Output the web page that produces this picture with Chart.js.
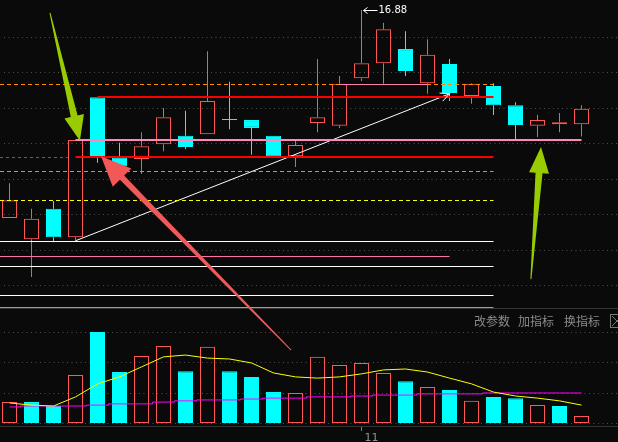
<!DOCTYPE html>
<html lang="zh-CN">
<head>
<meta charset="UTF-8" />
<title>K线 + 成交量</title>
<script src="https://cdn.jsdelivr.net/npm/chart.js@4.4.1/dist/chart.umd.min.js"></script>
<style>
  html, body { margin: 0; padding: 0; background: #0a0a0a; }
  canvas { display: block; }
</style>
</head>
<body>
<canvas id="kChart" width="618" height="442"></canvas>
<script>
// K线 (27 根, 从左到右)
const opens  = [13.95, 13.65, 14.08, 13.68, 15.65, 14.80, 14.78, 14.99, 15.11, 15.13, 15.33, 15.33, 15.11, 14.82, 15.29, 15.25, 15.92, 16.13, 16.33, 15.85, 16.12, 15.67, 15.81, 15.54, 15.25, 15.27, 15.27];
const highs  = [14.44, 14.08, 14.19, 15.05, 15.65, 15.01, 15.16, 15.50, 15.46, 16.30, 15.87, 15.33, 15.11, 15.04, 16.19, 15.95, 16.88, 16.70, 16.58, 16.47, 16.19, 15.85, 15.85, 15.58, 15.40, 15.43, 15.54];
const lows   = [13.95, 13.12, 13.61, 13.63, 14.73, 14.67, 14.57, 14.89, 14.92, 15.13, 15.20, 14.84, 14.80, 14.67, 15.16, 15.22, 15.88, 15.84, 15.95, 15.70, 15.60, 15.56, 15.40, 15.06, 15.09, 15.16, 15.10];
const closes = [14.20, 13.94, 13.68, 15.05, 14.81, 14.68, 14.96, 15.37, 14.95, 15.60, 15.33, 15.22, 14.82, 14.98, 15.37, 15.84, 16.13, 16.61, 16.02, 16.25, 15.71, 15.84, 15.54, 15.26, 15.33, 15.30, 15.49];

// 成交量 (万手) 和均量线
const volumes = [6.9, 6.9, 5.6, 15.8, 30.0, 16.8, 22.1, 25.4, 17.1, 25.1, 17.1, 15.2, 10.2, 9.9, 21.8, 19.1, 19.8, 16.5, 13.8, 11.9, 10.9, 7.3, 8.6, 8.2, 5.9, 5.6, 2.3];
const volRise = [1, 0, 0, 1, 0, 0, 1, 1, 0, 1, 0, 0, 0, 1, 1, 1, 1, 1, 0, 1, 0, 1, 0, 0, 1, 0, 1];
const volMa5  = [6.6, 5.9, 5.6, 8.6, 12.9, 15.2, 18.5, 21.8, 22.4, 21.4, 21.1, 19.8, 16.5, 15.2, 14.8, 15.2, 16.2, 17.5, 17.8, 16.8, 14.8, 12.9, 10.2, 8.9, 8.2, 7.3, 5.9];
const volMa10 = [5.3, 5.6, 5.6, 5.6, 5.9, 6.3, 6.3, 6.9, 7.3, 7.6, 7.6, 7.9, 8.2, 8.2, 8.6, 8.6, 8.9, 9.2, 9.2, 9.6, 9.6, 9.6, 9.9, 9.9, 9.9, 9.9, 9.9];

// 刻度
const priceTicks = [13.0, 13.5, 14.0, 14.5, 15.0, 15.5, 16.0, 16.5];
const volTicks = [0, 10, 20, 30];
const dateTickIndex = [16];
const dateTickLabels = ['11'];

// 画线: 水平价位 (起止为K线序号, null = 左边缘)
const levelPrices = [15.84, 15.84, 15.65, 15.05, 14.81, 14.81, 14.61, 14.20, 13.63, 13.42, 13.27, 12.87, 12.70];
const levelFrom   = [null, 15, 4, 3, 3, null, null, null, null, null, null, null, null];
const levelTo     = [22, 19, 22, 26, 22, 2.65, 22, 22, 22, 20, 22, 22, 22];
// 趋势线
const trendIdx   = [3, 20];
const trendPrice = [13.63, 15.70];

const RED = '#ff5656';
const CYAN = '#00ffff';

const levelStyles = [
  { color: '#ff8c00', width: 1, dash: [4, 3] },
  { color: '#ff80b0', width: 1, dash: [] },
  { color: '#ff0000', width: 2, dash: [] },
  { color: '#ff88bb', width: 2, dash: [] },
  { color: '#ff0000', width: 2, dash: [] },
  { color: '#ff2020', width: 1, dash: [3, 3] },
  { color: '#ff8c00', width: 1, dash: [4, 3] },
  { color: '#ffff00', width: 1, dash: [4, 3] },
  { color: '#ffffff', width: 1, dash: [] },
  { color: '#ff70a8', width: 1, dash: [] },
  { color: '#ffffff', width: 1, dash: [] },
  { color: '#ffffff', width: 1, dash: [] },
  { color: '#e070e0', width: 1, dash: [] }
];

// 标注箭头 (数据坐标: 序号, 价格)
const callouts = [
  { from: [1.84, 16.84], to: [3.20, 15.04], color: '#99cc00', tail: 1, shaft: 7, head: 25, headW: 20 },
  { from: [23.70, 13.09], to: [24.16, 14.95], color: '#99cc00', tail: 1, shaft: 7, head: 26, headW: 20 },
  { from: [12.80, 12.09], to: [4.16, 14.82], color: '#f25858', tail: 1, shaft: 6, head: 30, headW: 26 }
];

const idx = opens.map((_, i) => i);
const isUp = idx.map(i => closes[i] > opens[i]);

function drawArrow(ctx, x1, y1, x2, y2, o) {
  const dx = x2 - x1, dy = y2 - y1;
  const len = Math.hypot(dx, dy);
  const ux = dx / len, uy = dy / len;
  const px = -uy, py = ux;
  const bx = x2 - ux * o.head, by = y2 - uy * o.head;
  ctx.beginPath();
  ctx.moveTo(x1 + px * o.tail / 2, y1 + py * o.tail / 2);
  ctx.lineTo(bx + px * o.shaft / 2, by + py * o.shaft / 2);
  ctx.lineTo(bx + px * o.headW / 2, by + py * o.headW / 2);
  ctx.lineTo(x2, y2);
  ctx.lineTo(bx - px * o.headW / 2, by - py * o.headW / 2);
  ctx.lineTo(bx - px * o.shaft / 2, by - py * o.shaft / 2);
  ctx.lineTo(x1 - px * o.tail / 2, y1 - py * o.tail / 2);
  ctx.closePath();
  ctx.fillStyle = o.color;
  ctx.fill();
}

const overlay = {
  id: 'overlay',
  beforeDatasetsDraw(chart) {
    const { ctx, scales: { y, yv } } = chart;
    const W = chart.width;
    ctx.save();
    ctx.lineWidth = 1;
    // 面板分隔线
    ctx.strokeStyle = '#333333';
    ctx.beginPath();
    ctx.moveTo(0, 308.5); ctx.lineTo(W, 308.5);
    ctx.moveTo(0, 426.5); ctx.lineTo(W, 426.5);
    ctx.stroke();
    // 网格虚点
    ctx.strokeStyle = '#505050';
    ctx.setLineDash([1, 3.5]);
    ctx.beginPath();
    priceTicks.forEach(v => {
      const py = Math.round(y.getPixelForValue(v)) + 0.5;
      ctx.moveTo(4, py); ctx.lineTo(W, py);
    });
    volTicks.forEach(v => {
      const py = Math.round(yv.getPixelForValue(v)) + 0.5;
      ctx.moveTo(4, py); ctx.lineTo(W, py);
    });
    ctx.stroke();
    ctx.restore();
  },
  afterDatasetsDraw(chart) {
    const { ctx, scales: { x, y } } = chart;
    ctx.save();

    // 水平价位线
    levelPrices.forEach((p, i) => {
      const st = levelStyles[i];
      const x0 = levelFrom[i] === null ? 0 : x.getPixelForValue(levelFrom[i]);
      const x1 = x.getPixelForValue(levelTo[i]);
      let py = Math.round(y.getPixelForValue(p));
      if (st.width % 2 === 1) py += 0.5;
      ctx.strokeStyle = st.color;
      ctx.lineWidth = st.width;
      ctx.setLineDash(st.dash);
      ctx.beginPath();
      ctx.moveTo(x0, py); ctx.lineTo(x1, py);
      ctx.stroke();
    });
    ctx.setLineDash([]);

    // 趋势线箭头
    const tx0 = x.getPixelForValue(trendIdx[0]), ty0 = y.getPixelForValue(trendPrice[0]);
    const tx1 = x.getPixelForValue(trendIdx[1]), ty1 = y.getPixelForValue(trendPrice[1]);
    const ang = Math.atan2(ty0 - ty1, tx0 - tx1);
    ctx.strokeStyle = '#ffffff';
    ctx.lineWidth = 1;
    ctx.beginPath();
    [-0.45, 0.45].forEach(a => {
      ctx.moveTo(tx1, ty1);
      ctx.lineTo(tx1 + Math.cos(ang + a) * 10, ty1 + Math.sin(ang + a) * 10);
    });
    ctx.stroke();

    // 最高价标注
    let hi = 0;
    highs.forEach((h, i) => { if (h > highs[hi]) hi = i; });
    const hx = x.getPixelForValue(hi), hy = Math.round(y.getPixelForValue(highs[hi])) + 0.5;
    ctx.beginPath();
    ctx.moveTo(hx + 2, hy); ctx.lineTo(hx + 16, hy);
    ctx.moveTo(hx + 2, hy); ctx.lineTo(hx + 6, hy - 3);
    ctx.moveTo(hx + 2, hy); ctx.lineTo(hx + 6, hy + 3);
    ctx.stroke();
    ctx.fillStyle = '#ffffff';
    ctx.font = '10px "DejaVu Sans"';
    ctx.textBaseline = 'middle';
    ctx.textAlign = 'left';
    ctx.fillText(highs[hi].toFixed(2), hx + 17, hy);

    // 日期刻度
    ctx.strokeStyle = '#808080';
    ctx.fillStyle = '#909090';
    ctx.font = '11px "DejaVu Sans"';
    ctx.textBaseline = 'alphabetic';
    dateTickIndex.forEach((d, i) => {
      const dx = Math.round(x.getPixelForValue(d)) - 0.5;
      ctx.beginPath();
      ctx.moveTo(dx, 427); ctx.lineTo(dx, 431);
      ctx.stroke();
      ctx.fillText(dateTickLabels[i], dx + 3, 441);
    });

    // 指标按钮
    ctx.fillStyle = '#8a8a8a';
    ctx.font = '12px "Noto Sans CJK SC"';
    ctx.textBaseline = 'middle';
    ctx.fillText('改参数', 474, 321);
    ctx.fillText('加指标', 518, 321);
    ctx.fillText('换指标', 564, 321);
    ctx.strokeStyle = '#777777';
    ctx.strokeRect(610.5, 314.5, 14, 13);
    ctx.beginPath();
    ctx.moveTo(612, 316); ctx.lineTo(622, 326);
    ctx.moveTo(622, 316); ctx.lineTo(612, 326);
    ctx.stroke();

    // 标注箭头
    callouts.forEach(c => {
      drawArrow(ctx,
        x.getPixelForValue(c.from[0]), y.getPixelForValue(c.from[1]),
        x.getPixelForValue(c.to[0]), y.getPixelForValue(c.to[1]), c);
    });
    ctx.restore();
  }
};

const ctx = document.getElementById('kChart').getContext('2d');
new Chart(ctx, {
  type: 'bar',
  data: {
    datasets: [
      {
        label: '影线上',
        data: idx.map(i => ({ x: i, y: [Math.max(opens[i], closes[i]), highs[i]] })),
        backgroundColor: idx.map(i => isUp[i] ? RED : CYAN),
        borderWidth: 0,
        barThickness: 1,
        grouped: false,
        inflateAmount: 0,
        yAxisID: 'y',
        order: 3
      },
      {
        label: '影线下',
        data: idx.map(i => ({ x: i, y: [lows[i], Math.min(opens[i], closes[i])] })),
        backgroundColor: idx.map(i => isUp[i] ? RED : CYAN),
        borderWidth: 0,
        barThickness: 1,
        grouped: false,
        inflateAmount: 0,
        yAxisID: 'y',
        order: 3
      },
      {
        label: 'K线',
        data: idx.map(i => ({ x: i, y: [Math.min(opens[i], closes[i]), Math.max(opens[i], closes[i])] })),
        backgroundColor: idx.map(i => isUp[i] ? 'rgba(0,0,0,0)' : CYAN),
        borderColor: idx.map(i => isUp[i] ? RED : CYAN),
        borderWidth: 1,
        borderSkipped: false,
        barThickness: 15,
        minBarLength: 1,
        grouped: false,
        inflateAmount: 0,
        yAxisID: 'y',
        order: 2
      },
      {
        label: '成交量',
        data: idx.map(i => ({ x: i, y: volumes[i] })),
        backgroundColor: idx.map(i => volRise[i] ? 'rgba(0,0,0,0)' : CYAN),
        borderColor: idx.map(i => volRise[i] ? RED : CYAN),
        borderWidth: 1,
        borderSkipped: false,
        barThickness: 15,
        grouped: false,
        inflateAmount: 0,
        yAxisID: 'yv',
        order: 2
      },
      {
        type: 'line',
        label: 'MA5',
        data: idx.map(i => ({ x: i, y: volMa5[i] })),
        borderColor: '#ffff00',
        borderWidth: 1,
        pointRadius: 0,
        tension: 0,
        yAxisID: 'yv',
        order: 0
      },
      {
        type: 'line',
        label: 'MA10',
        data: idx.map(i => ({ x: i, y: volMa10[i] })),
        borderColor: '#ff00ff',
        borderWidth: 1,
        pointRadius: 0,
        stepped: 'middle',
        yAxisID: 'yv',
        order: 0
      },
      {
        type: 'line',
        label: '趋势线',
        data: trendIdx.map((t, i) => ({ x: t, y: trendPrice[i] })),
        borderColor: '#ffffff',
        borderWidth: 1,
        pointRadius: 0,
        yAxisID: 'y',
        order: 0
      }
    ]
  },
  options: {
    responsive: false,
    animation: false,
    events: [],
    devicePixelRatio: 1,
    layout: { padding: 0 },
    plugins: { legend: { display: false }, tooltip: { enabled: false } },
    scales: {
      x: { type: 'linear', display: false, offset: false, grid: { offset: false }, min: -9.5 / 22, max: -9.5 / 22 + 618 / 22 },
      y: { type: 'linear', display: false, bounds: 'data', min: 16.5 - 405 / 71, max: 16.5 + 37 / 71 },
      yv: { type: 'linear', display: false, bounds: 'data', min: -19 / (91 / 30), max: 423 / (91 / 30) }
    }
  },
  plugins: [overlay]
});
</script>
</body>
</html>
